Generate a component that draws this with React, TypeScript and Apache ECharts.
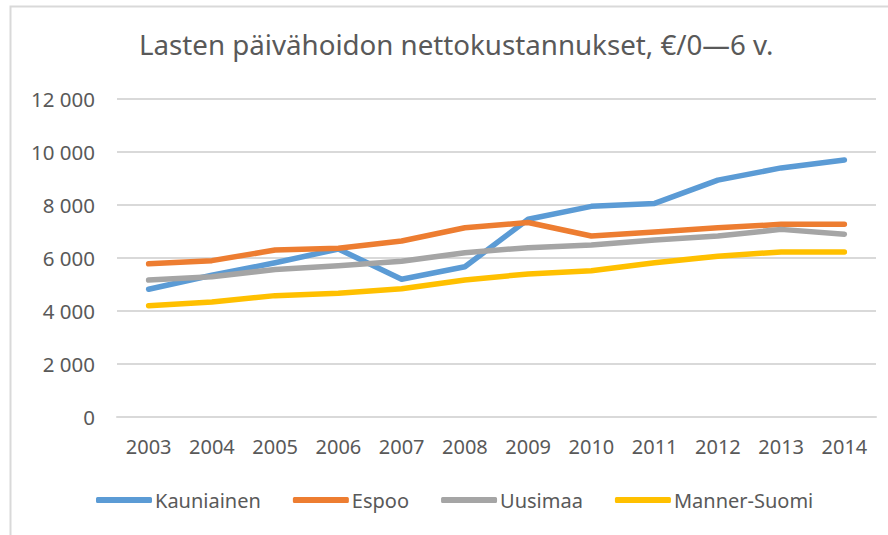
import React, { useEffect, useRef } from "react";
import * as echarts from "echarts";

const years = ["2003", "2004", "2005", "2006", "2007", "2008", "2009", "2010", "2011", "2012", "2013", "2014"];
const kauniainen = [4820, 5350, 5820, 6340, 5200, 5670, 7460, 7950, 8060, 8940, 9400, 9700];
const espoo = [5780, 5900, 6300, 6370, 6640, 7140, 7340, 6830, 6980, 7140, 7270, 7270];
const uusimaa = [5170, 5290, 5570, 5710, 5880, 6200, 6390, 6490, 6680, 6830, 7080, 6900];
const mannerSuomi = [4200, 4340, 4580, 4670, 4840, 5170, 5400, 5520, 5820, 6070, 6230, 6230];
const seriesNames = ["Kauniainen", "Espoo", "Uusimaa", "Manner-Suomi"];
const colors = ["#5B9BD5", "#ED7D31", "#A5A5A5", "#FFC000"];
const titleText = "Lasten päivähoidon nettokustannukset, €/0—6 v.";

const FONT = "'Noto Sans', 'Open Sans', sans-serif";
const TXT = "#595959";

export default function App() {
  const ref = useRef<HTMLDivElement>(null);
  useEffect(() => {
    if (!ref.current) return;
    const chart = echarts.init(ref.current, undefined, { renderer: "svg" });
    const data = [kauniainen, espoo, uusimaa, mannerSuomi];
    chart.setOption({
      animation: false,
      backgroundColor: "#ffffff",
      textStyle: { fontFamily: FONT, color: TXT },
      title: {
        text: titleText,
        left: 139,
        top: 30,
        padding: 0,
        textStyle: { fontFamily: FONT, fontSize: 27.7, fontWeight: "normal", color: TXT },
      },
      graphic: [
        {
          type: "rect",
          shape: { x: 10.5, y: 6.5, width: 900, height: 600 },
          style: { fill: "none", stroke: "#D9D9D9", lineWidth: 2 },
          silent: true,
          z: -1,
        },
      ],
      legend: {
        data: seriesNames,
        bottom: 20,
        left: 91,
        itemWidth: 56,
        itemHeight: 6,
        itemGap: 32,
        icon: "roundRect",
        textStyle: { fontFamily: FONT, fontSize: 20, color: TXT, padding: [0, 0, 0, -2] },
      },
      grid: { left: 117, right: 12, top: 99, bottom: 118 },
      xAxis: {
        type: "category",
        data: years,
        boundaryGap: true,
        axisLine: { lineStyle: { color: "#D9D9D9", width: 2 } },
        axisTick: { show: false },
        axisLabel: { color: TXT, fontSize: 20, fontFamily: FONT, margin: 19 },
      },
      yAxis: {
        type: "value",
        min: 0,
        max: 12000,
        interval: 2000,
        axisLine: { show: false },
        axisTick: { show: false },
        splitLine: { lineStyle: { color: "#D9D9D9", width: 2 } },
        axisLabel: {
          color: TXT,
          fontSize: 20.5,
          fontFamily: FONT,
          margin: 22,
          formatter: (v: number) => String(v).replace(/\B(?=(\d{3})+(?!\d))/g, " "),
        },
      },
      series: seriesNames.map((name, i) => ({
        name,
        type: "line",
        data: data[i],
        showSymbol: false,
        symbol: "none",
        color: colors[i],
        lineStyle: { width: 5.5, color: colors[i], cap: "round", join: "round" },
      })),
    });
    return () => chart.dispose();
  }, []);
  return (
    <div
      ref={ref}
      style={{ position: "absolute", left: 0, top: 0, width: 888, height: 535 }}
    />
  );
}
